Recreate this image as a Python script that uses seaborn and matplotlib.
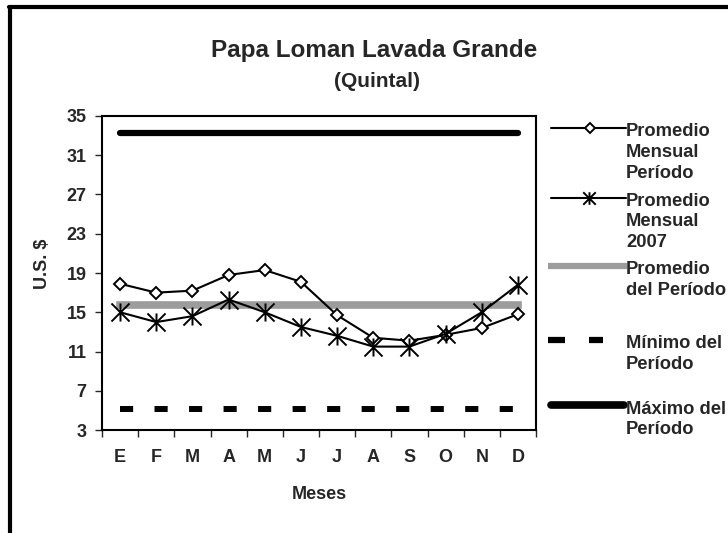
import numpy as np
import pandas as pd
import matplotlib
matplotlib.use("Agg")
import matplotlib.pyplot as plt
import seaborn as sns
from matplotlib.lines import Line2D
from matplotlib.path import Path

# --------------------------------------------------------------------
# DATA
# --------------------------------------------------------------------
meses = ["E", "F", "M", "A", "M", "J", "J", "A", "S", "O", "N", "D"]
prom_mensual_periodo = [17.9, 17.0, 17.2, 18.8, 19.3, 18.1, 14.7, 12.4, 12.1, 12.7, 13.4, 14.8]
prom_mensual_2007 = [15.0, 14.0, 14.6, 16.3, 15.0, 13.5, 12.6, 11.5, 11.5, 12.8, 15.0, 17.8]
prom_periodo = 15.7
min_periodo = 5.1
max_periodo = 33.3
y_ticks = [3, 7, 11, 15, 19, 23, 27, 31, 35]

df = pd.DataFrame({
    "pos": np.arange(len(meses)),
    "mes": meses,
    "periodo": prom_mensual_periodo,
    "y2007": prom_mensual_2007,
})
df["prom"] = prom_periodo
df["minimo"] = min_periodo
df["maximo"] = max_periodo

sns.set_style("white")
plt.rcParams["font.family"] = ["Liberation Sans", "DejaVu Sans"]
plt.rcParams["font.weight"] = "bold"

# asterisk-like star marker (Excel style)
star = Path([(0, -1), (0, 1), (-1, -1), (1, 1), (-1, 1), (1, -1)],
            [Path.MOVETO, Path.LINETO, Path.MOVETO, Path.LINETO, Path.MOVETO, Path.LINETO])

fig = plt.figure(figsize=(7.28, 5.33), dpi=100)
ax = fig.add_axes([0.1401, 0.1932, 0.5962, 0.5892])

# reference lines
sns.lineplot(data=df, x="pos", y="maximo", ax=ax, color="black", lw=4.5,
             solid_capstyle="round")
sns.lineplot(data=df, x="pos", y="prom", ax=ax, color="#9c9c9c", lw=5.5,
             solid_capstyle="projecting")
sns.lineplot(data=df, x="pos", y="minimo", ax=ax, color="black", lw=4.3)
ax.lines[-1].set_dashes((2.2, 3.58))
ax.lines[-1].set_dash_capstyle("butt")

# monthly series
sns.lineplot(data=df, x="pos", y="periodo", ax=ax, color="black", lw=1.5,
             marker="D", markersize=6.5, markerfacecolor="white",
             markeredgecolor="black", markeredgewidth=1.4)
sns.lineplot(data=df, x="pos", y="y2007", ax=ax, color="black", lw=1.5,
             marker=star, markersize=13, markeredgecolor="black",
             markeredgewidth=1.4)

fs = 13
ax.set_xlim(-0.5, len(meses) - 0.5)
ax.set_ylim(3, 35)
ax.set_yticks(y_ticks)
ax.set_yticklabels([str(t) for t in y_ticks], fontsize=fs, fontweight="bold")
ax.set_xticks(df["pos"])
ax.set_xticklabels(meses, fontsize=fs, fontweight="bold")
ax.set_xticks(np.arange(-0.5, len(meses)), minor=True)
ax.tick_params(axis="x", which="major", length=0, pad=14)
ax.tick_params(axis="x", which="minor", length=5, width=1, direction="out", bottom=True)
ax.tick_params(axis="y", length=5, width=1, direction="out", left=True, pad=6)
for sp in ax.spines.values():
    sp.set_color("black")
    sp.set_linewidth(1.5)
ax.set_xlabel("Meses", fontsize=fs, fontweight="bold", labelpad=14)
ax.set_ylabel("U.S. $", fontsize=fs, fontweight="bold")
ax.yaxis.set_label_coords(-0.118, 0.53)

W, H = 728, 533
def fx(px):
    return px / W
def fy(py):
    return 1 - py / H

fig.text(fx(374), fy(50), "Papa Loman Lavada Grande", ha="center", va="center",
         fontsize=17.5, fontweight="bold")
fig.text(fx(377), fy(81), "(Quintal)", ha="center", va="center",
         fontsize=15, fontweight="bold")

# --------------------------------------------------------------------
# manual legend (right side, as drawn by the original chart)
# --------------------------------------------------------------------
xt = 626
entries = [
    (130, ["Promedio", "Mensual", "Período"]),
    (199, ["Promedio", "Mensual", "2007"]),
    (268, ["Promedio", "del Período"]),
    (342, ["Mínimo del", "Período"]),
    (407, ["Máximo del", "Período"]),
]
lh = 20.7
for yy, lines in entries:
    for k, t in enumerate(lines):
        fig.text(fx(xt), fy(yy + k * lh), t, ha="left", va="center_baseline",
                 fontsize=13.2, fontweight="bold")

y = fy(128)
fig.add_artist(Line2D([fx(551), fx(626)], [y, y], color="black", lw=1.5))
fig.add_artist(Line2D([fx(590)], [y], marker="D", markersize=5, markerfacecolor="white",
                      markeredgecolor="black", markeredgewidth=1.4, lw=0))
y = fy(198)
fig.add_artist(Line2D([fx(551), fx(626)], [y, y], color="black", lw=1.5))
fig.add_artist(Line2D([fx(589)], [y], marker=star, markersize=9, markeredgecolor="black",
                      markeredgewidth=1.4, lw=0))
y = fy(266)
fig.add_artist(Line2D([fx(548), fx(627)], [y, y], color="#9c9c9c", lw=4.5, solid_capstyle="butt"))
y = fy(340)
fig.add_artist(Line2D([fx(548), fx(565)], [y, y], color="black", lw=4.5, solid_capstyle="butt"))
fig.add_artist(Line2D([fx(589), fx(603)], [y, y], color="black", lw=4.5, solid_capstyle="butt"))
y = fy(405)
fig.add_artist(Line2D([fx(551), fx(624)], [y, y], color="black", lw=5.5, solid_capstyle="round"))

# outer frame (left and top only, the rest is cropped)
fig.add_artist(Line2D([fx(10), fx(10)], [0, fy(7)], color="black", lw=3))
fig.add_artist(Line2D([fx(8.5), 1], [fy(7), fy(7)], color="black", lw=3))

fig.savefig("out.png", dpi=100)
